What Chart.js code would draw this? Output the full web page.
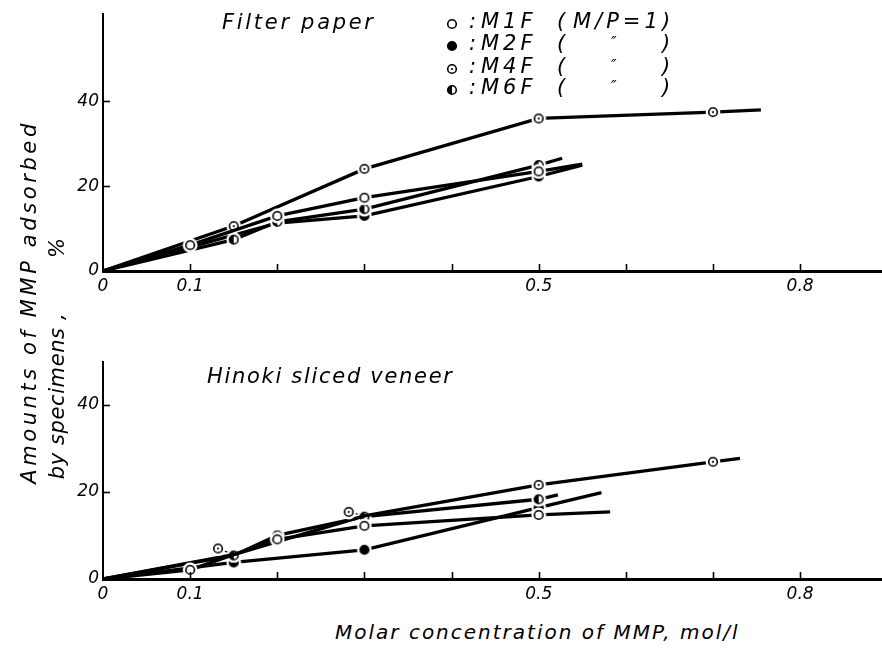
<!DOCTYPE html>
<html lang="en">
<head>
<meta charset="UTF-8">
<title>MMP adsorption</title>
<script src="https://cdn.jsdelivr.net/npm/chart.js"></script>
<style>
    body { margin: 0; background: #fff; }
    #page { position: relative; width: 882px; height: 649px; overflow: hidden; font-family: "DejaVu Sans", sans-serif; font-style: italic; color: #000; }
    #page canvas.chart { position: absolute; left: 0; }
    .txt { position: absolute; white-space: pre; line-height: 1; }
    .rot { transform: translate(-50%, -50%) rotate(-90deg); }
    .legend-row { position: absolute; left: 444px; width: 240px; height: 22px; font-size: 21px; line-height: 1; white-space: nowrap; }
    .legend-row canvas { position: absolute; left: 0; top: 5px; }
    .legend-row span { position: absolute; top: 0; letter-spacing: 4px; }
</style>
</head>
<body>
<div id="page">
    <canvas id="topChart" class="chart" width="882" height="300" style="top:0"></canvas>
    <canvas id="bottomChart" class="chart" width="882" height="270" style="top:340px"></canvas>

    <div class="txt" style="left:222px; top:12px; font-size:21px; letter-spacing:2.7px;">Filter paper</div>
    <div class="txt" style="left:207px; top:366px; font-size:21px; letter-spacing:1.7px;">Hinoki sliced veneer</div>

    <div class="txt rot" style="left:29px; top:302px; font-size:21px; letter-spacing:3.6px;">Amounts of MMP adsorbed</div>
    <div class="txt rot" style="left:57px; top:396px; font-size:21px; letter-spacing:0.6px;">by specimens ,</div>
    <div class="txt rot" style="left:57px; top:248px; font-size:21px;">%</div>

    <div class="txt" style="left:335px; top:622px; font-size:20px; letter-spacing:2px;">Molar concentration of MMP, mol/l</div>

    <div id="legend"></div>
</div>

<script>
    // x: MMP concentration (mol/l), y: amount adsorbed (%)
    // first point is the origin, last point is where the drawn line stops
    const xTicks = [0, 0.1, 0.2, 0.3, 0.4, 0.5, 0.6, 0.7, 0.8];
    const xLabelled = [0, 0.1, 0.5, 0.8];
    const yTicks = [0, 20, 40];

    // Filter paper
    const filterM1F_x = [0, 0.1, 0.2, 0.3, 0.5, 0.55];
    const filterM1F_y = [0, 6.1, 13.0, 17.3, 23.5, 25.2];
    const filterM2F_x = [0, 0.2, 0.3, 0.5, 0.55];
    const filterM2F_y = [0, 11.3, 13.0, 22.3, 25.0];
    const filterM4F_x = [0, 0.15, 0.3, 0.5, 0.7, 0.755];
    const filterM4F_y = [0, 10.6, 24.1, 36.0, 37.5, 38.0];
    const filterM6F_x = [0, 0.15, 0.2, 0.3, 0.5, 0.527];
    const filterM6F_y = [0, 7.4, 11.6, 14.6, 25.0, 26.6];

    // Hinoki sliced veneer
    const hinokiM1F_x = [0, 0.1, 0.2, 0.3, 0.5, 0.582];
    const hinokiM1F_y = [0, 2.1, 9.1, 12.2, 14.7, 15.4];
    const hinokiM2F_x = [0, 0.15, 0.3, 0.5, 0.572];
    const hinokiM2F_y = [0, 3.8, 6.7, 16.4, 19.8];
    const hinokiM4F_x = [0, 0.15, 0.3, 0.5, 0.7, 0.731];
    const hinokiM4F_y = [0, 5.6, 14.5, 21.6, 26.9, 27.7];
    const hinokiM6F_x = [0, 0.15, 0.2, 0.3, 0.5, 0.522];
    const hinokiM6F_y = [0, 5.4, 10.0, 14.3, 18.3, 19.3];
    // M4F symbols drawn beside the line, tied to it with a short leader
    const hinokiM4F_offX = [0.132, 0.282];
    const hinokiM4F_offY = [7.0, 15.4];
    const hinokiM4F_anchor = [0.15, 0.3];

    function makeMarker(kind, halo) {
        const c = document.createElement('canvas');
        c.width = 16; c.height = 16;
        const g = c.getContext('2d');
        const cx = 8, cy = 8, r = 4.3;
        if (halo) {
            g.fillStyle = '#fff';
            g.beginPath(); g.arc(cx, cy, 7.4, 0, Math.PI * 2); g.fill();
        }
        g.lineWidth = 1.6;
        g.strokeStyle = '#000';
        g.fillStyle = kind === 'filled' ? '#000' : '#fff';
        g.beginPath(); g.arc(cx, cy, r, 0, Math.PI * 2); g.fill(); g.stroke();
        if (kind === 'dotted') {
            g.fillStyle = '#000';
            g.beginPath(); g.arc(cx, cy, 1.1, 0, Math.PI * 2); g.fill();
        }
        if (kind === 'half') {
            g.fillStyle = '#000';
            g.beginPath(); g.arc(cx, cy, r, Math.PI / 2, Math.PI * 1.5); g.closePath(); g.fill();
        }
        return c;
    }

    const markers = {
        M1F: makeMarker('open', true),
        M2F: makeMarker('filled', true),
        M4F: makeMarker('dotted', true),
        M6F: makeMarker('half', true)
    };

    function lineSeries(label, xs, ys, hideAt) {
        hideAt = hideAt || [];
        return {
            label: label,
            data: xs.map((x, i) => ({ x: x, y: ys[i] })),
            showLine: true,
            borderColor: '#000',
            borderWidth: 3.3,
            borderCapStyle: 'butt',
            tension: 0,
            pointStyle: markers[label],
            pointRadius: ctx => (ctx.dataIndex === 0 || ctx.dataIndex === xs.length - 1 ||
                hideAt.includes(xs[ctx.dataIndex])) ? 0 : 5,
            pointHoverRadius: 0
        };
    }

    function leader(x0, y0, x1, y1) {
        return {
            label: 'leader',
            data: [{ x: x0, y: y0 }, { x: x1, y: y1 }],
            showLine: true,
            borderColor: '#000',
            borderWidth: 1.2,
            pointRadius: 0
        };
    }

    // tick marks pointing into the plot
    const innerTicks = {
        id: 'innerTicks',
        afterDatasetsDraw(chart) {
            const { ctx, chartArea, scales } = chart;
            ctx.save();
            ctx.strokeStyle = '#000';
            ctx.lineWidth = 1.6;
            scales.x.ticks.forEach(t => {
                if (t.value === 0) return;
                const px = Math.round(scales.x.getPixelForValue(t.value)) + 0.5;
                ctx.beginPath();
                ctx.moveTo(px, chartArea.bottom);
                ctx.lineTo(px, chartArea.bottom - 7);
                ctx.stroke();
            });
            scales.y.ticks.forEach(t => {
                if (t.value === 0) return;
                const py = Math.round(scales.y.getPixelForValue(t.value)) + 0.5;
                ctx.beginPath();
                ctx.moveTo(chartArea.left, py);
                ctx.lineTo(chartArea.left + 7, py);
                ctx.stroke();
            });
            ctx.restore();
        }
    };

    function panelOptions(yMax, topPad, xHeight) {
        return {
            responsive: false,
            animation: false,
            devicePixelRatio: 1,
            layout: { autoPadding: false, padding: { top: topPad, left: 0, right: 0, bottom: 0 } },
            plugins: { legend: { display: false }, tooltip: { enabled: false } },
            scales: {
                x: {
                    type: 'linear',
                    min: 0,
                    max: 0.894,
                    afterBuildTicks: axis => { axis.ticks = xTicks.map(v => ({ value: v })); },
                    afterFit: axis => { axis.height = xHeight; },
                    grid: { display: false, drawTicks: false },
                    border: { display: true, color: '#000', width: 3 },
                    ticks: {
                        autoSkip: false,
                        maxRotation: 0,
                        padding: 5,
                        color: '#000',
                        font: { family: 'DejaVu Sans', style: 'italic', size: 17 },
                        callback: v => xLabelled.includes(v) ? String(v) : ''
                    }
                },
                y: {
                    type: 'linear',
                    min: 0,
                    max: yMax,
                    afterBuildTicks: axis => { axis.ticks = yTicks.map(v => ({ value: v })); },
                    afterFit: axis => { axis.width = 103; },
                    grid: { display: false, drawTicks: false },
                    border: { display: true, color: '#000', width: 2 },
                    ticks: {
                        padding: 4,
                        color: '#000',
                        font: { family: 'DejaVu Sans', style: 'italic', size: 17 }
                    }
                }
            }
        };
    }

    new Chart(document.getElementById('topChart'), {
        type: 'scatter',
        data: {
            datasets: [
                lineSeries('M1F', filterM1F_x, filterM1F_y),
                lineSeries('M4F', filterM4F_x, filterM4F_y),
                lineSeries('M6F', filterM6F_x, filterM6F_y),
                lineSeries('M2F', filterM2F_x, filterM2F_y)
            ]
        },
        options: panelOptions(60.6, 8, 29),
        plugins: [innerTicks]
    });

    const hinokiAnchorY = hinokiM4F_anchor.map(x => hinokiM4F_y[hinokiM4F_x.indexOf(x)]);

    new Chart(document.getElementById('bottomChart'), {
        type: 'scatter',
        data: {
            datasets: [
                {
                    label: 'M4F',
                    data: hinokiM4F_offX.map((x, i) => ({ x: x, y: hinokiM4F_offY[i] })),
                    showLine: false,
                    pointStyle: markers.M4F,
                    pointRadius: 5,
                    pointHoverRadius: 0
                },
                lineSeries('M1F', hinokiM1F_x, hinokiM1F_y),
                lineSeries('M4F', hinokiM4F_x, hinokiM4F_y, hinokiM4F_anchor),
                lineSeries('M6F', hinokiM6F_x, hinokiM6F_y),
                lineSeries('M2F', hinokiM2F_x, hinokiM2F_y),
                ...hinokiM4F_offX.map((x, i) => leader(x, hinokiM4F_offY[i], hinokiM4F_anchor[i], hinokiAnchorY[i]))
            ]
        },
        options: panelOptions(49.8, 22, 31),
        plugins: [innerTicks]
    });

    // legend block
    const legendRows = [
        { key: 'M1F', kind: 'open', note: 'M/P=1' },
        { key: 'M2F', kind: 'filled', note: '″' },
        { key: 'M4F', kind: 'dotted', note: '″' },
        { key: 'M6F', kind: 'half', note: '″' }
    ];
    const legendTops = [11, 33, 56, 77];
    const legend = document.getElementById('legend');
    legendRows.forEach((row, i) => {
        const div = document.createElement('div');
        div.className = 'legend-row';
        div.style.top = legendTops[i] + 'px';
        div.appendChild(makeMarker(row.kind, false));
        const parts = [
            [':', 25],
            [row.key, 37],
            ['(', 113],
            [row.note, row.note === '″' ? 167 : 129],
            [')', 218]
        ];
        parts.forEach(p => {
            const s = document.createElement('span');
            s.textContent = p[0];
            s.style.left = p[1] + 'px';
            if (p[0] === '″') { s.style.fontSize = '15px'; s.style.top = '3px'; }
            div.appendChild(s);
        });
        legend.appendChild(div);
    });
</script>
</body>
</html>
